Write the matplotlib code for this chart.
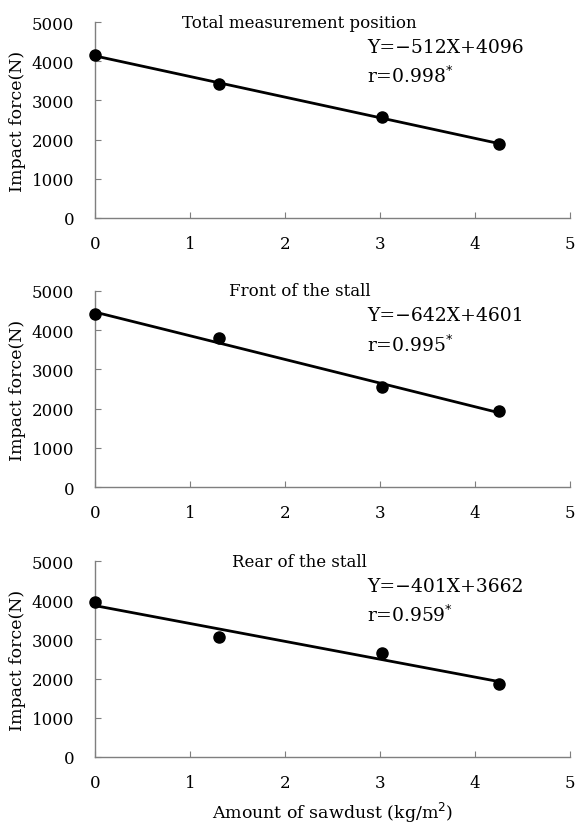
import numpy as np
import matplotlib.pyplot as plt

plt.rcParams['font.family'] = ['DejaVu Serif']

# sawdust amount (kg/m2)
sawdust = [0, 1.3, 3.02, 4.25]

# impact force (N) per measurement position
total = [4150, 3420, 2590, 1880]
front = [4400, 3800, 2540, 1930]
rear = [3950, 3070, 2660, 1860]

titles = ["Total measurement position", "Front of the stall", "Rear of the stall"]
equations = ["Y=\u2212512X+4096", "Y=\u2212642X+4601", "Y=\u2212401X+3662"]
r_values = ["0.998", "0.995", "0.959"]
series = [total, front, rear]

fig = plt.figure(figsize=(5.83, 8.29), dpi=100)

# axes boxes in figure fraction: left, bottom, width, height
boxes = [
    [0.163, 0.736, 0.815, 0.236],
    [0.163, 0.411, 0.815, 0.237],
    [0.163, 0.0857, 0.815, 0.2363],
]

spine_col = '#7f7f7f'

for i in range(3):
    ax = fig.add_axes(boxes[i])
    y = series[i]
    # regression line through the points
    k, b = np.polyfit(sawdust, y, 1)
    xs = np.array([0, max(sawdust)])
    ax.plot(xs, k * xs + b, color='black', lw=2, zorder=2)
    ax.plot(sawdust, y, 'o', color='black', ms=8, zorder=3, clip_on=False)

    ax.set_xlim(0, 5)
    ax.set_ylim(0, 5000)
    ax.set_xticks([0, 1, 2, 3, 4, 5])
    ax.set_yticks([0, 1000, 2000, 3000, 4000, 5000])
    ax.tick_params(direction='in', length=4, color=spine_col, labelsize=12)
    ax.tick_params(axis='y', pad=15)
    ax.tick_params(axis='x', pad=12)
    for s in ['top', 'right']:
        ax.spines[s].set_visible(False)
    for s in ['left', 'bottom']:
        ax.spines[s].set_color(spine_col)
        ax.spines[s].set_linewidth(1)

    ax.set_ylabel("Impact force(N)", fontsize=12.5, labelpad=4)
    ax.text(0.43, 1.0, titles[i], transform=ax.transAxes, ha='center',
            va='center', fontsize=12)
    ax.text(0.573, 0.875, equations[i], transform=ax.transAxes, ha='left',
            va='center', fontsize=13.5)
    ax.text(0.573, 0.73, "r=" + r_values[i] + "$^{*}$", transform=ax.transAxes,
            ha='left', va='center', fontsize=13.5)

    if i == 2:
        ax.set_xlabel("Amount of sawdust (kg/m$^{2}$)", fontsize=12.5, labelpad=7)

fig.savefig("out.png", dpi=100)
